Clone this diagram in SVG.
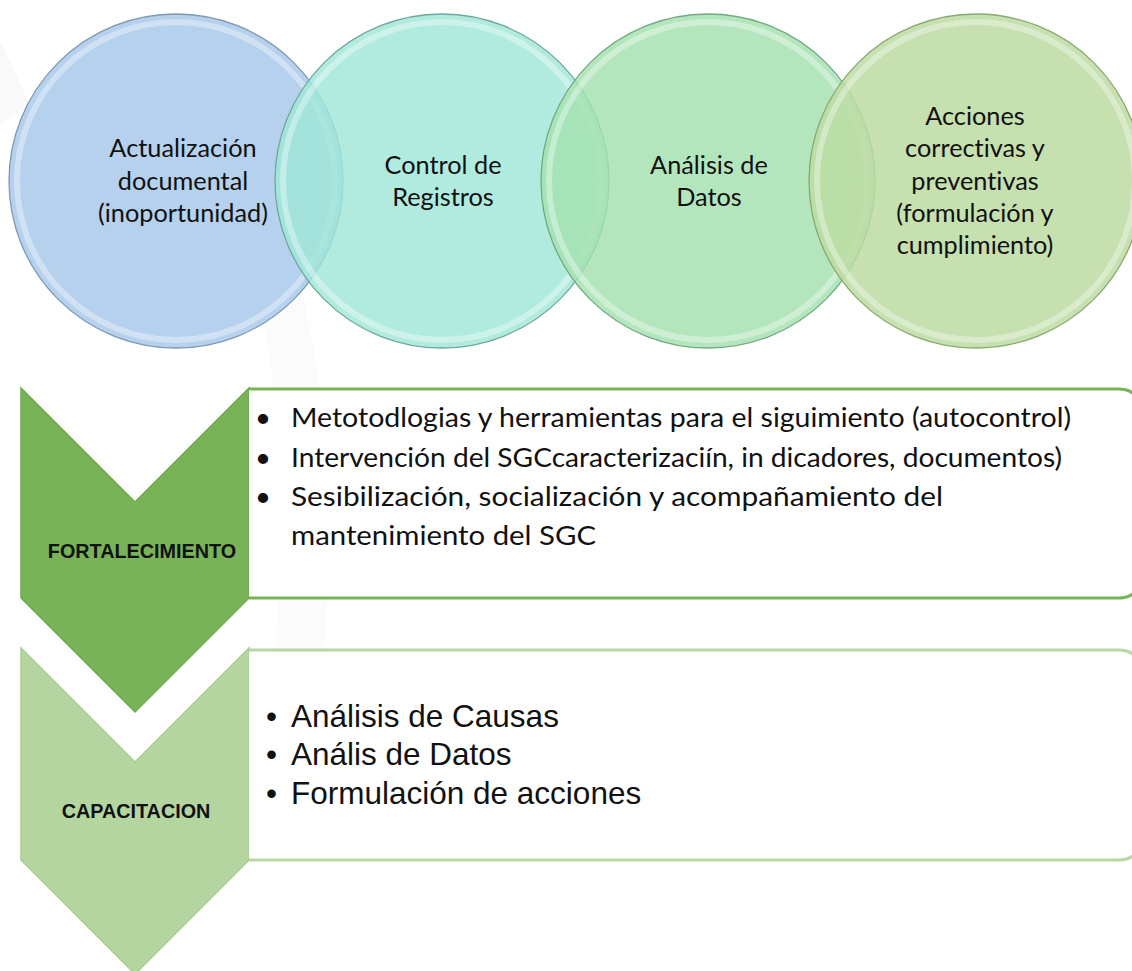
<svg xmlns="http://www.w3.org/2000/svg" width="1132" height="971" viewBox="0 0 1132 971">
  <style>
    text { font-variant-ligatures: none; }
    .ctext { font-family: Lato, "Liberation Sans", sans-serif; font-size: 25.3px; fill: #111; text-anchor: middle; }
    .b1 { font-family: Lato, "Liberation Sans", sans-serif; font-size: 27.5px; fill: #111; }
    .b2 { font-family: "Liberation Sans", Arial, sans-serif; font-size: 31.5px; fill: #111; }
    .lbl { font-family: "Liberation Sans", Arial, sans-serif; font-size: 19.8px; font-weight: bold; fill: #111; text-anchor: middle; }
    .rim { fill: none; stroke: #ffffff; stroke-opacity: 0.35; stroke-width: 6; }
  </style>
  <rect x="0" y="0" width="1132" height="971" fill="#ffffff"/>
  <!-- faint watermark -->
  <path d="M0,40 L30,105 L0,125 Z" fill="#f9f9f9"/>
  <path d="M255,285 Q300,470 270,690 L320,690 Q345,470 300,285 Z" fill="#fbfbfb"/>

  <g id="circle1">
    <circle cx="176" cy="181" r="167" fill="#afcdec" fill-opacity="0.92" stroke="#7f98b0" stroke-width="1.3"/>
    <circle cx="176" cy="181" r="159" class="rim"/>
    <text class="ctext" x="183" y="157">Actualización</text>
    <text class="ctext" x="183" y="190">documental</text>
    <text class="ctext" x="183" y="222">(inoportunidad)</text>
  </g>
  <g id="circle2">
    <circle cx="442" cy="181" r="167" fill="#a0e6d8" fill-opacity="0.82" stroke="#6fa89c" stroke-width="1.3"/>
    <circle cx="442" cy="181" r="159" class="rim"/>
    <text class="ctext" x="443" y="174">Control de</text>
    <text class="ctext" x="443" y="206">Registros</text>
  </g>
  <g id="circle3">
    <circle cx="708" cy="181" r="167" fill="#a4e0b0" fill-opacity="0.82" stroke="#74a882" stroke-width="1.3"/>
    <circle cx="708" cy="181" r="159" class="rim"/>
    <text class="ctext" x="709" y="174">Análisis de</text>
    <text class="ctext" x="709" y="206">Datos</text>
  </g>
  <g id="circle4">
    <circle cx="976" cy="181" r="167" fill="#bcdaa2" fill-opacity="0.85" stroke="#8aa872" stroke-width="1.3"/>
    <circle cx="976" cy="181" r="159" class="rim"/>
    <text class="ctext" x="975" y="125">Acciones</text>
    <text class="ctext" x="975" y="157">correctivas y</text>
    <text class="ctext" x="975" y="190">preventivas</text>
    <text class="ctext" x="975" y="222">(formulación y</text>
    <text class="ctext" x="975" y="254">cumplimiento)</text>
  </g>

  <g id="chevron2">
    <path d="M21,648 L135,762 L249,648 L249,860 L135,974 L21,860 Z" fill="#b5d5a0" stroke="#a8cd90" stroke-width="1.5"/>
    <text class="lbl" x="136" y="818">CAPACITACION</text>
  </g>
  <g id="box2">
    <path d="M249,650 L1118,650 Q1140,650 1140,672 L1140,838 Q1140,860 1118,860 L249,860" fill="#ffffff" stroke="#b7d7a3" stroke-width="3"/>
    <text class="b2" x="266" y="727">•</text>
    <text class="b2" x="291" y="727">Análisis de Causas</text>
    <text class="b2" x="266" y="765">•</text>
    <text class="b2" x="291" y="765">Anális de Datos</text>
    <text class="b2" x="266" y="804">•</text>
    <text class="b2" x="291" y="804">Formulación de acciones</text>
  </g>

  <g id="chevron1">
    <path d="M21,388 L135,502 L249,388 L249,598 L135,712 L21,598 Z" fill="#79b357" stroke="#70aa4f" stroke-width="1.5"/>
    <text class="lbl" x="142" y="558">FORTALECIMIENTO</text>
  </g>
  <g id="box1">
    <path d="M249,389 L1118,389 Q1140,389 1140,411 L1140,576 Q1140,598 1118,598 L249,598" fill="#ffffff" stroke="#79b357" stroke-width="3"/>
    <text class="b1" x="255" y="427">•</text>
    <text class="b1" x="291" y="427" textLength="780" lengthAdjust="spacingAndGlyphs">Metotodlogias y herramientas para el siguimiento (autocontrol)</text>
    <text class="b1" x="255" y="467">•</text>
    <text class="b1" x="291" y="467" textLength="771" lengthAdjust="spacingAndGlyphs">Intervención del SGCcaracterizaciín, in dicadores, documentos)</text>
    <text class="b1" x="255" y="506">•</text>
    <text class="b1" x="291" y="506" textLength="652" lengthAdjust="spacingAndGlyphs">Sesibilización, socialización y acompañamiento del</text>
    <text class="b1" x="291" y="545" textLength="305" lengthAdjust="spacingAndGlyphs">mantenimiento del SGC</text>
  </g>

  <g id="connectors"></g>
</svg>
